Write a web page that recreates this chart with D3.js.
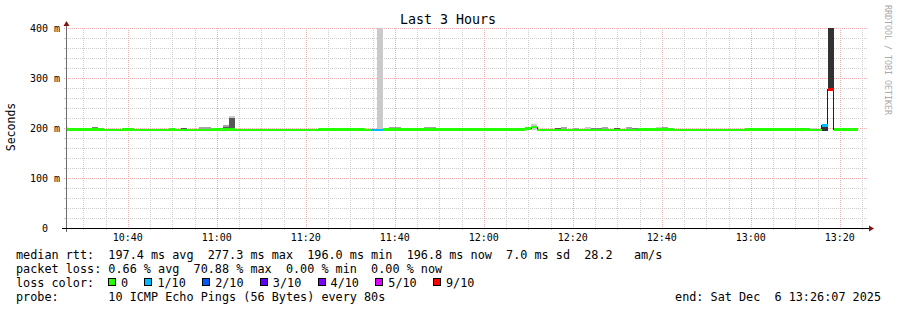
<!DOCTYPE html>
<html>
<head>
<meta charset="utf-8">
<script src="https://cdn.jsdelivr.net/npm/d3@7"></script>
<style>
  html, body { margin: 0; padding: 0; background: #fff; }
  svg { display: block; font-family: "DejaVu Sans Mono", monospace; }
  text { white-space: pre; }
</style>
</head>
<body>
<svg id="chart" width="897" height="310"></svg>
<script>
// ---- data ----
const title = "Last 3 Hours";
const yAxisTitle = "Seconds";
const watermark = "RRDTOOL / TOBI OETIKER";
const yTicks = [0, 100, 200, 300, 400];              // ms
const yTickLabels = ["  0  ", "100 m", "200 m", "300 m", "400 m"];
const xTickLabels = ["10:40", "11:00", "11:20", "11:40", "12:00", "12:20", "12:40", "13:00", "13:20"];
const day = [2025, 11, 6];
const windowStart = "10:26:07";
const windowEnd = "13:26:07";
const firstStep = "10:25:20";
const stepSeconds = 80;

// median rtt per 80 s step (ms)
const median = [
  197, 197, 197, 197, 197, 197, 197, 196, 196, 196,
  197, 197, 196, 196, 196, 196, 196, 196, 197, 196,
  196, 196, 196, 196, 196, 197, 197, 197, 197, 196,
  196, 196, 196, 196, 196, 196, 196, 196, 196, 196,
  196, 196, 196, 197, 197, 197, 197, 197, 197, 197,
  197, 196, 196, 196, 197, 197, 197, 197, 197, 197,
  197, 197, 197, 197, 197, 197, 197, 197, 197, 197,
  197, 197, 197, 197, 197, 197, 197, 197, 199, 202,
  196.5, 196.5, 196.5, 196.5, 196.5, 196.5, 196.5, 196.5, 196.5, 196.5,
  196.5, 196.5, 196.5, 196.5, 196.5, 196.5, 196.5, 197, 197, 197,
  197, 197, 197, 196, 196, 196, 196, 196, 196, 196,
  196, 196, 196, 196, 196, 197, 197, 197, 197, 197,
  197, 197, 197, 197, 197, 197, 196, 196, 205, 277.3,
  196.8, 196.8, 196.8, 196.8
];

// lost pings out of 10 per step
const loss = [
  0, 0, 0, 0, 0, 0, 0, 0, 0, 0,
  0, 0, 0, 0, 0, 0, 0, 0, 0, 0,
  0, 0, 0, 0, 0, 0, 0, 0, 0, 0,
  0, 0, 0, 0, 0, 0, 0, 0, 0, 0,
  0, 0, 0, 0, 0, 0, 0, 0, 0, 0,
  0, 0, 1, 1, 0, 0, 0, 0, 0, 0,
  0, 0, 0, 0, 0, 0, 0, 0, 0, 0,
  0, 0, 0, 0, 0, 0, 0, 0, 0, 0,
  0, 0, 0, 0, 0, 0, 0, 0, 0, 0,
  0, 0, 0, 0, 0, 0, 0, 0, 0, 0,
  0, 0, 0, 0, 0, 0, 0, 0, 0, 0,
  0, 0, 0, 0, 0, 0, 0, 0, 0, 0,
  0, 0, 0, 0, 0, 0, 0, 0, 1, 9,
  0, 0, 0, 0
];

// visible smoke: [step, low ms, high ms, grey level 0 (outer) .. 4 (inner)]
const smoke = [
  [0, 195, 202, 0], [5, 196, 202, 2], [20, 196, 201, 3], [23, 196, 202, 1],
  [24, 196, 202, 1], [27, 195, 206, 1], [27, 196, 203, 3], [28, 196, 224, 0],
  [28, 196, 221, 3], [45, 196, 201, 1], [53, 196, 420, 0], [54, 196, 201, 2],
  [55, 196, 203, 1], [56, 196, 202, 1], [60, 196, 201, 1], [61, 196, 202, 1],
  [62, 196, 202, 1], [63, 196, 201, 3], [66, 196, 201, 0], [67, 196, 201, 0],
  [69, 196, 201, 1], [70, 196, 201, 1], [75, 196, 201, 1], [79, 197, 208, 0],
  [83, 196, 201, 3], [84, 196, 202, 1], [86, 196, 201, 1], [88, 196, 202, 0],
  [89, 196, 201, 2], [90, 196, 201, 2], [91, 196, 202, 1], [93, 196, 201, 3],
  [95, 196, 202, 1], [96, 196, 201, 2], [97, 196, 201, 2], [100, 196, 202, 0],
  [101, 196, 202, 1], [124, 196, 201, 0], [125, 196, 201, 0], [126, 196, 200, 0],
  [128, 195, 203, 4], [129, 279, 420, 4]
];
const smokeGreys = ["#cacaca", "#a4a4a4", "#7e7e7e", "#585858", "#323232"];

const lossLabels = ["0", "1/10", "2/10", "3/10", "4/10", "5/10", "9/10"];
const lossColors = ["#26ff00", "#00b8ff", "#0059ff", "#5e00ff", "#7e00ff", "#dd00ff", "#ff0000"];

const legendRtt = "median rtt:  197.4 ms avg  277.3 ms max  196.0 ms min  196.8 ms now  7.0 ms sd  28.2   am/s";
const legendLoss = "packet loss: 0.66 % avg  70.88 % max  0.00 % min  0.00 % now";
const legendColor = "loss color:";
const legendProbe = "probe:       10 ICMP Echo Pings (56 Bytes) every 80s";
const legendEnd = "end: Sat Dec  6 13:26:07 2025";

// ---- helpers ----
function at(hms) {
  const [h, m, s] = hms.split(":").map(Number);
  return new Date(day[0], day[1], day[2], h, m, s || 0);
}
const stepStart = k => new Date(+at(firstStep) + k * stepSeconds * 1000);
function lossIndex(l) {
  if (l <= 4) return l;
  if (l <= 8) return 5;
  return 6;
}

const svg = d3.select("#chart");
const W = 897, H = 310;
const plot = { left: 66, right: 867, top: 28, bottom: 228 };

const x = d3.scaleTime().domain([at(windowStart), at(windowEnd)]).range([plot.left, plot.right]);
const y = d3.scaleLinear().domain([0, 400]).range([plot.bottom, plot.top]);

svg.append("rect").attr("width", W).attr("height", H).attr("fill", "#fff");

svg.append("defs").append("clipPath").attr("id", "plot-clip")
  .append("rect")
  .attr("x", plot.left).attr("y", plot.top)
  .attr("width", plot.right - plot.left).attr("height", plot.bottom - plot.top);

// ---- grid ----
const grid = svg.append("g").attr("shape-rendering", "crispEdges");
const minorColor = "#cdcdcd";
const majorColor = "#efaeae";

y.ticks(20).filter(v => v % 100 !== 0).forEach(v => {
  const yy = Math.round(y(v)) + 0.5;
  grid.append("line").attr("x1", plot.left).attr("x2", plot.right + 1)
    .attr("y1", yy).attr("y2", yy)
    .attr("stroke", minorColor).attr("stroke-dasharray", "1,1");
  grid.append("line").attr("x1", plot.left - 2).attr("x2", plot.left).attr("y1", yy).attr("y2", yy).attr("stroke", minorColor);
});

const majorTimes = xTickLabels.map(at);
d3.timeMinute.every(5).range(x.domain()[0], x.domain()[1])
  .filter(t => t.getMinutes() % 20 !== 0)
  .forEach(t => {
    const xx = Math.round(x(t)) + 0.5;
    grid.append("line").attr("x1", xx).attr("x2", xx)
      .attr("y1", plot.top).attr("y2", plot.bottom)
      .attr("stroke", minorColor).attr("stroke-dasharray", "1,1");
    grid.append("line").attr("x1", xx).attr("x2", xx).attr("y1", plot.bottom).attr("y2", plot.bottom + 2).attr("stroke", minorColor);
  });

yTicks.filter(v => v > 0).forEach(v => {
  const yy = Math.round(y(v)) + 0.5;
  grid.append("line").attr("x1", plot.left - 2).attr("x2", plot.right + 1)
    .attr("y1", yy).attr("y2", yy)
    .attr("stroke", majorColor).attr("stroke-dasharray", "1,1");
});
majorTimes.forEach(t => {
  const xx = Math.round(x(t)) + 0.5;
  grid.append("line").attr("x1", xx).attr("x2", xx)
    .attr("y1", plot.top).attr("y2", plot.bottom + 2)
    .attr("stroke", majorColor).attr("stroke-dasharray", "1,1");
});

// ---- data ----
const data = svg.append("g").attr("clip-path", "url(#plot-clip)");

// smoke, outer (light) bands first
data.append("g").attr("shape-rendering", "crispEdges")
  .selectAll("rect")
  .data(smoke.slice().sort((a, b) => a[3] - b[3]))
  .join("rect")
  .attr("x", d => x(stepStart(d[0])))
  .attr("width", d => x(stepStart(d[0] + 1)) - x(stepStart(d[0])))
  .attr("y", d => y(d[2]))
  .attr("height", d => y(d[1]) - y(d[2]))
  .attr("fill", d => smokeGreys[d[3]]);

// dark median line (shows at the steps)
const medianPts = median.map((m, k) => [stepStart(k), m]);
medianPts.push([stepStart(median.length), median[median.length - 1]]);
data.append("path")
  .datum(medianPts)
  .attr("fill", "none")
  .attr("stroke", "#202020")
  .attr("stroke-width", 1)
  .attr("shape-rendering", "crispEdges")
  .attr("d", d3.line().x(d => x(d[0])).y(d => y(d[1])).curve(d3.curveStepAfter));

// median band coloured by loss
const bandHalf = 2.5; // ms
data.append("g").attr("shape-rendering", "crispEdges")
  .selectAll("rect")
  .data(median.map((m, k) => ({ k, m, l: loss[k] })))
  .join("rect")
  .attr("x", d => x(stepStart(d.k)))
  .attr("width", d => x(stepStart(d.k + 1)) - x(stepStart(d.k)))
  .attr("y", d => y(d.m + bandHalf))
  .attr("height", d => y(d.m - bandHalf) - y(d.m + bandHalf))
  .attr("fill", d => lossColors[lossIndex(d.l)]);

// ---- axes ----
const axes = svg.append("g").attr("shape-rendering", "crispEdges");
axes.append("line").attr("x1", plot.left + 0.5).attr("x2", plot.left + 0.5)
  .attr("y1", plot.bottom + 4).attr("y2", plot.top - 3)
  .attr("stroke", "#6a6a6a");
axes.append("line").attr("x1", plot.left - 4).attr("x2", plot.right + 2)
  .attr("y1", plot.bottom + 0.5).attr("y2", plot.bottom + 0.5)
  .attr("stroke", "#000");

const arrowColor = "#8b1010";
svg.append("path")
  .attr("d", `M${plot.right + 2},${plot.bottom - 2.5}L${plot.right + 7},${plot.bottom + 0.5}L${plot.right + 2},${plot.bottom + 3.5}Z`)
  .attr("fill", arrowColor);
svg.append("path")
  .attr("d", `M${plot.left - 2.5},${plot.top - 2}L${plot.left + 0.5},${plot.top - 7}L${plot.left + 3.5},${plot.top - 2}Z`)
  .attr("fill", arrowColor);

// tick labels
svg.append("g")
  .selectAll("text")
  .data(yTicks)
  .join("text")
  .attr("x", 60)
  .attr("y", d => y(d) + 3.5)
  .attr("text-anchor", "end")
  .attr("font-size", "10px")
  .attr("fill", "#000")
  .text((d, i) => yTickLabels[i]);

svg.append("g")
  .selectAll("text")
  .data(majorTimes)
  .join("text")
  .attr("x", d => x(d))
  .attr("y", 241)
  .attr("text-anchor", "middle")
  .attr("font-size", "10px")
  .attr("fill", "#000")
  .text((d, i) => xTickLabels[i]);

// titles
svg.append("text")
  .attr("x", 448).attr("y", 24)
  .attr("text-anchor", "middle")
  .attr("font-size", "13.3px")
  .attr("fill", "#000")
  .text(title);

svg.append("text")
  .attr("transform", "translate(15,127) rotate(-90)")
  .attr("text-anchor", "middle")
  .attr("font-size", "11.5px")
  .attr("fill", "#000")
  .text(yAxisTitle);

svg.append("text")
  .attr("transform", "translate(885,5) rotate(90)")
  .attr("font-size", "8.3px")
  .attr("fill", "#aaaaaa")
  .text(watermark);

// ---- legend ----
const legendX = 16;
const legendFont = "11.8px";
const lineY = [258.5, 272.5, 286.7, 300.7];

[legendRtt, legendLoss, legendColor, legendProbe].forEach((s, i) => {
  svg.append("text")
    .attr("x", legendX).attr("y", lineY[i])
    .attr("font-size", legendFont)
    .attr("fill", "#000")
    .text(s);
});

svg.append("text")
  .attr("x", 881).attr("y", lineY[3])
  .attr("text-anchor", "end")
  .attr("font-size", legendFont)
  .attr("fill", "#000")
  .text(legendEnd);

let lx = 108;
lossLabels.forEach((lab, i) => {
  svg.append("rect")
    .attr("x", lx + 0.5).attr("y", lineY[2] - 8)
    .attr("width", 7).attr("height", 7)
    .attr("fill", lossColors[i])
    .attr("stroke", "#000")
    .attr("stroke-width", 1)
    .attr("shape-rendering", "crispEdges");
  const t = svg.append("text")
    .attr("x", lx + 13).attr("y", lineY[2])
    .attr("font-size", legendFont)
    .attr("fill", "#000")
    .text(lab);
  lx += 13 + t.node().getComputedTextLength() + 16.3;
});
</script>
</body>
</html>
